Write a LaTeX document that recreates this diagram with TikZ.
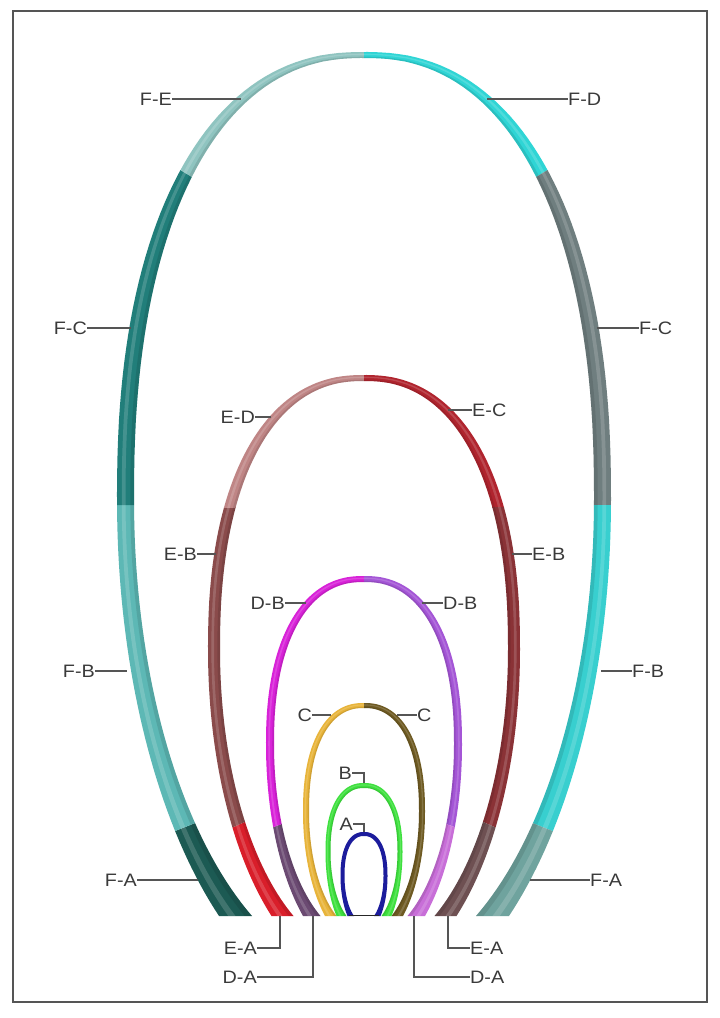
\documentclass[tikz,border=0pt]{standalone}
\usepackage{fontspec}
\setmainfont{Liberation Sans}[FakeStretch=1.1]
\definecolor{FAl}{HTML}{1C5A53}
\definecolor{FAr}{HTML}{6FA39E}
\definecolor{FBl}{HTML}{5DB8B5}
\definecolor{FBr}{HTML}{38CFCF}
\definecolor{FCl}{HTML}{217E7A}
\definecolor{FCr}{HTML}{6F7E7F}
\definecolor{FE}{HTML}{8FC4C0}
\definecolor{FD}{HTML}{2FD5D5}
\definecolor{ED}{HTML}{BF8585}
\definecolor{EC}{HTML}{B0242E}
\definecolor{EBl}{HTML}{8A4B4B}
\definecolor{EBr}{HTML}{8A3236}
\definecolor{EAl}{HTML}{D91E2A}
\definecolor{EAr}{HTML}{6E5052}
\definecolor{DBl}{HTML}{D822D8}
\definecolor{DBr}{HTML}{A455D6}
\definecolor{DAl}{HTML}{6B4A72}
\definecolor{DAr}{HTML}{C86ED8}
\definecolor{Cl}{HTML}{E8B43A}
\definecolor{Cr}{HTML}{6E5A22}
\definecolor{Bc}{HTML}{3EE03E}
\definecolor{Ac}{HTML}{1C1C9C}
\definecolor{leadgray}{HTML}{555555}
\definecolor{labeltext}{HTML}{3A3A3A}
\definecolor{framegray}{HTML}{555555}
% #1 ym, #2 yt, #3 W, #4 Bw, #5 ytI, #6 WI, #7 BwI
\newcommand\archsetup[7]{%
  \pgfmathsetmacro\aYm{#1}%
  \pgfmathsetmacro\oA{#1-#2}\pgfmathsetmacro\oW{#3}\pgfmathsetmacro\oB{#4}%
  \pgfmathsetmacro\iA{#1-#5}\pgfmathsetmacro\iW{#6}\pgfmathsetmacro\iB{#7}%
  \bandsetup{0}{1}%
}
% band between fractions #1 (outer side) and #2 (inner side) of the thickness
\newcommand\bandsetup[2]{%
  \pgfmathsetmacro\aAo{\oA+#1*(\iA-\oA)}%
  \pgfmathsetmacro\aWo{\oW+#1*(\iW-\oW)}%
  \pgfmathsetmacro\aPo{acos((\oB+#1*(\iB-\oB))/\aWo)}%
  \pgfmathsetmacro\aBo{(916-\aYm)/sin(\aPo)}%
  \pgfmathsetmacro\aAi{\oA+#2*(\iA-\oA)}%
  \pgfmathsetmacro\aWi{\oW+#2*(\iW-\oW)}%
  \pgfmathsetmacro\aPi{acos((\oB+#2*(\iB-\oB))/\aWi)}%
  \pgfmathsetmacro\aBi{(916-\aYm)/sin(\aPi)}%
}
\newcommand\archpath{%
  plot[variable=\t,domain=\aPo:0,samples=40] ({364-\aWo*cos(\t)},{\aYm+\aBo*sin(\t)})
  -- plot[variable=\t,domain=89.5:0.5,samples=50] ({364-\aWo*pow(sin(\t),0.87)},{\aYm-\aAo*pow(cos(\t),0.87)})
  -- plot[variable=\t,domain=0.5:89.5,samples=50] ({364+\aWo*pow(sin(\t),0.87)},{\aYm-\aAo*pow(cos(\t),0.87)})
  -- plot[variable=\t,domain=0:\aPo,samples=40] ({364+\aWo*cos(\t)},{\aYm+\aBo*sin(\t)})
  -- plot[variable=\t,domain=\aPi:0,samples=40] ({364+\aWi*cos(\t)},{\aYm+\aBi*sin(\t)})
  -- plot[variable=\t,domain=89.5:0.5,samples=50] ({364+\aWi*pow(sin(\t),0.87)},{\aYm-\aAi*pow(cos(\t),0.87)})
  -- plot[variable=\t,domain=0.5:89.5,samples=50] ({364-\aWi*pow(sin(\t),0.87)},{\aYm-\aAi*pow(cos(\t),0.87)})
  -- plot[variable=\t,domain=0:\aPi,samples=40] ({364-\aWi*cos(\t)},{\aYm+\aBi*sin(\t)})
  -- cycle}
% tube shading: light stripe and darker inner edge
\newcommand\tubeshade{%
  \bandsetup{0.28}{0.5}\fill[white, opacity=0.16] \archpath;%
  \bandsetup{0.78}{1}\fill[black, opacity=0.10] \archpath;%
  \bandsetup{0}{1}%
}
\begin{document}
\begin{tikzpicture}[x=1pt,y=-1pt,
  lbl/.style={font=\fontsize{18}{20}\selectfont, text=labeltext, inner sep=0pt},
  lead/.style={draw=leadgray, line width=1.1pt}]
\useasboundingbox (0,0) rectangle (720,1018);
\fill[white] (0,0) rectangle (720,1018);
\draw[framegray, line width=2pt] (13,11) rectangle (707,1002);

% ---------------- F arch
\archsetup{500}{52}{247}{145}{58}{230}{112}
\begin{scope}\clip (218,814)--(97,862)--(0,900)--(0,1018)--(300,1018)--(300,814)--cycle; \fill[FAl] \archpath; \end{scope}
\begin{scope}\clip (0,505)--(300,505)--(300,814)--(218,814)--(97,862)--(0,900)--cycle; \fill[FBl] \archpath; \end{scope}
\begin{scope}\clip (0,505)--(300,505)--(300,193)--(218,193)--(22,73)--(0,60)--cycle; \fill[FCl] \archpath; \end{scope}
\begin{scope}\clip (218,193)--(22,73)--(0,60)--(0,0)--(364,0)--(364,193)--cycle; \fill[FE] \archpath; \end{scope}
\begin{scope}\clip (364,0)--(720,0)--(720,60)--(706,73)--(510,193)--(364,193)--cycle; \fill[FD] \archpath; \end{scope}
\begin{scope}\clip (510,193)--(706,73)--(720,60)--(720,505)--(430,505)--(430,193)--cycle; \fill[FCr] \archpath; \end{scope}
\begin{scope}\clip (430,505)--(720,505)--(720,900)--(630,862)--(510,814)--(430,814)--cycle; \fill[FBr] \archpath; \end{scope}
\begin{scope}\clip (510,814)--(630,862)--(720,900)--(720,1018)--(430,1018)--(430,814)--cycle; \fill[FAr] \archpath; \end{scope}
\tubeshade

% ---------------- E arch
\archsetup{650}{375}{156}{92.5}{381}{144}{70.5}
\begin{scope}\clip (267,812)--(189,847)--(150,865)--(150,1018)--(330,1018)--(330,812)--cycle; \fill[EAl] \archpath; \end{scope}
\begin{scope}\clip (267,812)--(189,847)--(150,865)--(150,507)--(330,507)--(330,812)--cycle; \fill[EBl] \archpath; \end{scope}
\begin{scope}\clip (150,507)--(364,507)--(364,300)--(150,300)--cycle; \fill[ED] \archpath; \end{scope}
\begin{scope}\clip (364,300)--(600,300)--(600,507)--(364,507)--cycle; \fill[EC] \archpath; \end{scope}
\begin{scope}\clip (364,507)--(600,507)--(600,874)--(539,847)--(461,812)--(364,812)--cycle; \fill[EBr] \archpath; \end{scope}
\begin{scope}\clip (461,812)--(539,847)--(600,874)--(600,1018)--(364,1018)--(364,812)--cycle; \fill[EAr] \archpath; \end{scope}
\tubeshade

% ---------------- D arch
\archsetup{745}{576}{98}{61}{582}{90}{43.5}
\begin{scope}\clip (299,818)--(242,838)--(200,853)--(200,1018)--(364,1018)--(364,818)--cycle; \fill[DAl] \archpath; \end{scope}
\begin{scope}\clip (299,818)--(242,838)--(200,853)--(200,500)--(364,500)--(364,818)--cycle; \fill[DBl] \archpath; \end{scope}
\begin{scope}\clip (364,500)--(528,500)--(528,853)--(486,838)--(429,818)--(364,818)--cycle; \fill[DBr] \archpath; \end{scope}
\begin{scope}\clip (429,818)--(486,838)--(528,853)--(528,1018)--(364,1018)--(364,818)--cycle; \fill[DAr] \archpath; \end{scope}
\tubeshade

% ---------------- C arch
\archsetup{812}{703}{61}{39}{708}{55}{27.5}
\begin{scope}\clip (200,650) rectangle (364,1018); \fill[Cl] \archpath; \end{scope}
\begin{scope}\clip (364,650) rectangle (528,1018); \fill[Cr] \archpath; \end{scope}
\tubeshade

% ---------------- B arch
\archsetup{852}{783}{38.5}{27.5}{788}{33.5}{17.5}
\fill[Bc] \archpath;
\tubeshade

% ---------------- A arch
\archsetup{876}{832}{23.5}{16.5}{836}{19.5}{10}
\fill[Ac] \archpath;
\coordinate (Abl) at (349,915.5);
\coordinate (Abr) at (379,915.5);
\draw[black!85, line width=1.2pt] (Abl) -- (Abr);

% ---------------- labels, left
\node[lbl, anchor=east] (lFEl) at (172,99) {F-E};
\node[lbl, anchor=east] (lFCl) at (87,328) {F-C};
\node[lbl, anchor=east] (lEDl) at (255,417) {E-D};
\node[lbl, anchor=east] (lEBl) at (197,554) {E-B};
\node[lbl, anchor=east] (lDBl) at (285,603) {D-B};
\node[lbl, anchor=east] (lFBl) at (95,671) {F-B};
\node[lbl, anchor=east] (lCl) at (312,715) {C};
\node[lbl, anchor=east] (lBl) at (352,773) {B};
\node[lbl, anchor=east] (lAl) at (353,824) {A};
\node[lbl, anchor=east] (lFAl) at (137,880) {F-A};
\node[lbl, anchor=east] (lEAl) at (257,948) {E-A};
\node[lbl, anchor=east] (lDAl) at (257,977) {D-A};
% labels, right
\node[lbl, anchor=west] (lFDr) at (568,99) {F-D};
\node[lbl, anchor=west] (lFCr) at (639,328) {F-C};
\node[lbl, anchor=west] (lECr) at (472,410) {E-C};
\node[lbl, anchor=west] (lEBr) at (532,554) {E-B};
\node[lbl, anchor=west] (lDBr) at (443,603) {D-B};
\node[lbl, anchor=west] (lFBr) at (632,671) {F-B};
\node[lbl, anchor=west] (lCr) at (417,715) {C};
\node[lbl, anchor=west] (lFAr) at (590,880) {F-A};
\node[lbl, anchor=west] (lEAr) at (470,948) {E-A};
\node[lbl, anchor=west] (lDAr) at (470,977) {D-A};

% leader targets
\coordinate (pFEl) at (241,99);
\coordinate (pFCl) at (131,328);
\coordinate (pEDl) at (271,417);
\coordinate (pEBl) at (216,554);
\coordinate (pDBl) at (306,603);
\coordinate (pFBl) at (127,671);
\coordinate (pCl) at (331,715);
\coordinate (pBl) at (364,783);
\coordinate (pAl) at (364,832);
\coordinate (pFAl) at (198,880);
\coordinate (pEAl) at (280,916);
\coordinate (pDAl) at (313,916);
\coordinate (pFDr) at (487,99);
\coordinate (pFCr) at (597,328);
\coordinate (pECr) at (448,410);
\coordinate (pEBr) at (512,554);
\coordinate (pDBr) at (422,603);
\coordinate (pFBr) at (601,671);
\coordinate (pCr) at (397,715);
\coordinate (pFAr) at (530,880);
\coordinate (pEAr) at (448,916);
\coordinate (pDAr) at (414,916);

\draw[lead] (lFEl.east) -- (pFEl);
\draw[lead] (lFCl.east) -- (pFCl);
\draw[lead] (lEDl.east) -- (pEDl);
\draw[lead] (lEBl.east) -- (pEBl);
\draw[lead] (lDBl.east) -- (pDBl);
\draw[lead] (lFBl.east) -- (pFBl);
\draw[lead] (lCl.east) -- (pCl);
\draw[lead] (lBl.east) -| (pBl);
\draw[lead] (lAl.east) -| (pAl);
\draw[lead] (lFAl.east) -- (pFAl);
\draw[lead] (lEAl.east) -| (pEAl);
\draw[lead] (lDAl.east) -| (pDAl);
\draw[lead] (lFDr.west) -- (pFDr);
\draw[lead] (lFCr.west) -- (pFCr);
\draw[lead] (lECr.west) -- (pECr);
\draw[lead] (lEBr.west) -- (pEBr);
\draw[lead] (lDBr.west) -- (pDBr);
\draw[lead] (lFBr.west) -- (pFBr);
\draw[lead] (lCr.west) -- (pCr);
\draw[lead] (lFAr.west) -- (pFAr);
\draw[lead] (lEAr.west) -| (pEAr);
\draw[lead] (lDAr.west) -| (pDAr);
\end{tikzpicture}
\end{document}
